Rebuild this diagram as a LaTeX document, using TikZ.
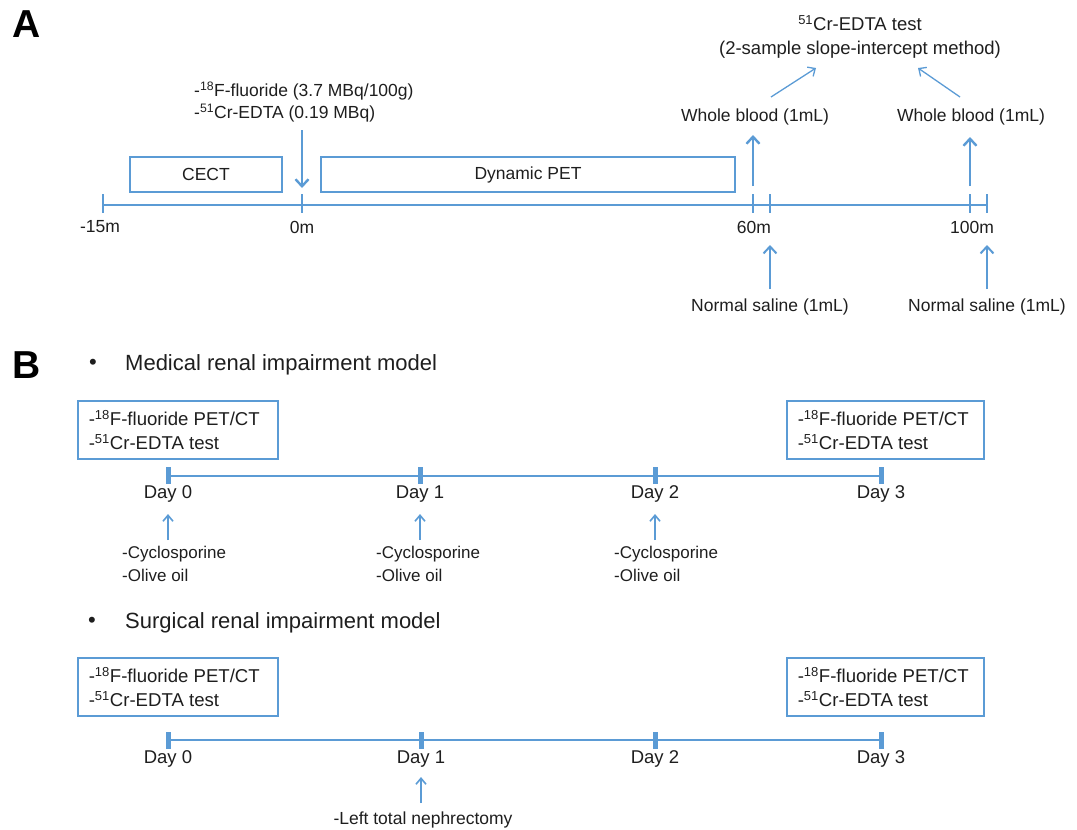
\documentclass[tikz,border=0pt]{standalone}
\usepackage{fontspec}
\setmainfont{Liberation Sans}
\usetikzlibrary{arrows.meta}
\definecolor{lblue}{RGB}{91,155,213}
\definecolor{txt}{RGB}{30,30,30}
\begin{document}
\begin{tikzpicture}[x=1pt,y=-1pt,
  lbl/.style={text=txt, inner sep=0pt, font=\fontsize{17.5}{22}\selectfont},
  panel/.style={text=black, inner sep=0pt, font=\fontsize{39}{40}\selectfont\bfseries},
  head/.style={text=txt, inner sep=0pt, font=\fontsize{22}{26}\selectfont},
  daylbl/.style={text=txt, inner sep=0pt, font=\fontsize{18.5}{22}\selectfont},
  drug/.style={text=txt, inner sep=0pt, align=left, anchor=north west, font=\fontsize{17}{23}\selectfont},
  tbox/.style={draw=lblue, line width=1.3pt, minimum height=35pt, inner sep=0pt, text=txt, font=\fontsize{17.5}{22}\selectfont},
  bbox/.style={draw=lblue, line width=1.5pt, anchor=north west, text width=#1, inner xsep=11pt, inner ysep=0pt, minimum height=58pt, align=flush left, text=txt, font=\fontsize{18.6}{24}\selectfont},
  axisA/.style={draw=lblue, line width=1.2pt},
  axisB/.style={draw=lblue, line width=2pt},
  daytick/.style={draw=lblue, line width=5pt},
  fatarr/.style={draw=lblue, line width=2.4pt, -{Straight Barb[length=7pt,width=13pt]}},
  medarr/.style={draw=lblue, line width=2pt, -{Straight Barb[length=7pt,width=13pt]}},
  thinarr/.style={draw=lblue, line width=1.3pt, -{Straight Barb[length=6pt,width=11pt]}},
  barr/.style={draw=lblue, line width=1.6pt, -{Straight Barb[length=6pt,width=10pt]}}
]
\useasboundingbox (0,0) rectangle (1077,830);

% ---------------- Panel A ----------------
\node[panel] (pA) at (27,24) {A};

\coordinate (m15) at (103,205);
\coordinate (m0) at (302,205);
\coordinate (m60) at (753,205);
\coordinate (m60b) at (770,205);
\coordinate (m100) at (970,205);
\coordinate (m100b) at (987,205);
\draw[axisA] (m15) -- (m100b);
\foreach \c in {m15,m0,m60,m60b,m100,m100b}
  \draw[axisA] (\c) ++(0,-11) -- ++(0,19);

\node[lbl] (l15) at (100,227) {-15m};
\node[lbl] (l0) at (302,227) {0m};
\node[lbl] (l60) at (754,227) {60m};
\node[lbl] (l100) at (972,227) {100m};

\node[tbox, minimum width=152pt] (cect) at (206,174.5) {CECT};
\node[tbox, minimum width=414pt] (dpet) at (528,174.5) {Dynamic PET};

\node[lbl, align=left, anchor=west] (dose) at (194,102)
  {-\textsuperscript{18}F-fluoride (3.7 MBq/100g)\\-\textsuperscript{51}Cr-EDTA (0.19 MBq)};
\coordinate (doseTop) at (302,130);
\coordinate (doseTip) at (302,188);
\draw[fatarr] (doseTop) -- (doseTip);

\node[lbl] (wb1) at (755,117) {Whole blood (1mL)};
\node[lbl] (wb2) at (971,117) {Whole blood (1mL)};
\coordinate (wb1s) at (753,186);
\coordinate (wb1e) at (753,135);
\coordinate (wb2s) at (970,186);
\coordinate (wb2e) at (970,137);
\draw[fatarr] (wb1s) -- (wb1e);
\draw[fatarr] (wb2s) -- (wb2e);

\node[text=txt, inner sep=0pt, align=center, font=\fontsize{18.5}{24}\selectfont] (title) at (860,37)
  {\textsuperscript{51}Cr-EDTA test\\(2-sample slope-intercept method)};
\coordinate (d1s) at (771,97);
\coordinate (d1e) at (816,68);
\coordinate (d2s) at (960,97);
\coordinate (d2e) at (918,68);
\draw[thinarr] (d1s) -- (d1e);
\draw[thinarr] (d2s) -- (d2e);

\node[lbl] (ns1) at (770,307) {Normal saline (1mL)};
\node[lbl] (ns2) at (987,307) {Normal saline (1mL)};
\coordinate (ns1s) at (770,289);
\coordinate (ns1e) at (770,245);
\coordinate (ns2s) at (987,289);
\coordinate (ns2e) at (987,245);
\draw[medarr] (ns1s) -- (ns1e);
\draw[medarr] (ns2s) -- (ns2e);

% ---------------- Panel B ----------------
\node[panel] (pB) at (27,365) {B};

% Medical model
\node[head] (bul1) at (93,364) {•};
\node[head, anchor=west] (med) at (125,365) {Medical renal impairment model};

\node[bbox=178pt] (mbox1) at (77,400)
  {-\textsuperscript{18}F-fluoride PET/CT\\-\textsuperscript{51}Cr-EDTA test};
\node[bbox=175pt] (mbox2) at (786,400)
  {-\textsuperscript{18}F-fluoride PET/CT\\-\textsuperscript{51}Cr-EDTA test};

\coordinate (md0) at (168,476);
\coordinate (md1) at (420,476);
\coordinate (md2) at (655,476);
\coordinate (md3) at (881,476);
\draw[axisB] (md0) -- (md3);
\foreach \c in {md0,md1,md2,md3}
  \draw[daytick] (\c) ++(0,-9) -- ++(0,17);

\node[daylbl] (mdl0) at (168,494) {Day 0};
\node[daylbl] (mdl1) at (420,494) {Day 1};
\node[daylbl] (mdl2) at (655,494) {Day 2};
\node[daylbl] (mdl3) at (881,494) {Day 3};

\foreach \x/\n in {168/a,420/b,655/c}{
  \coordinate (ma\n s) at (\x,540);
  \coordinate (ma\n e) at (\x,514);
  \draw[barr] (ma\n s) -- (ma\n e);
}
\node[drug] (cy0) at (122,546) {-Cyclosporine\\-Olive oil};
\node[drug] (cy1) at (376,546) {-Cyclosporine\\-Olive oil};
\node[drug] (cy2) at (614,546) {-Cyclosporine\\-Olive oil};

% Surgical model
\node[head] (bul2) at (92,622) {•};
\node[head, anchor=west] (sur) at (125,623) {Surgical renal impairment model};

\node[bbox=178pt] (sbox1) at (77,657)
  {-\textsuperscript{18}F-fluoride PET/CT\\-\textsuperscript{51}Cr-EDTA test};
\node[bbox=175pt] (sbox2) at (786,657)
  {-\textsuperscript{18}F-fluoride PET/CT\\-\textsuperscript{51}Cr-EDTA test};

\coordinate (sd0) at (168,740);
\coordinate (sd1) at (421,740);
\coordinate (sd2) at (655,740);
\coordinate (sd3) at (881,740);
\draw[axisB] (sd0) -- (sd3);
\foreach \c in {sd0,sd1,sd2,sd3}
  \draw[daytick] (\c) ++(0,-8) -- ++(0,17);

\node[daylbl] (sdl0) at (168,759) {Day 0};
\node[daylbl] (sdl1) at (421,759) {Day 1};
\node[daylbl] (sdl2) at (655,759) {Day 2};
\node[daylbl] (sdl3) at (881,759) {Day 3};

\coordinate (sas) at (421,803);
\coordinate (sae) at (421,777);
\draw[barr] (sas) -- (sae);
\node[lbl] (neph) at (423,820) {-Left total nephrectomy};

\end{tikzpicture}
\end{document}
